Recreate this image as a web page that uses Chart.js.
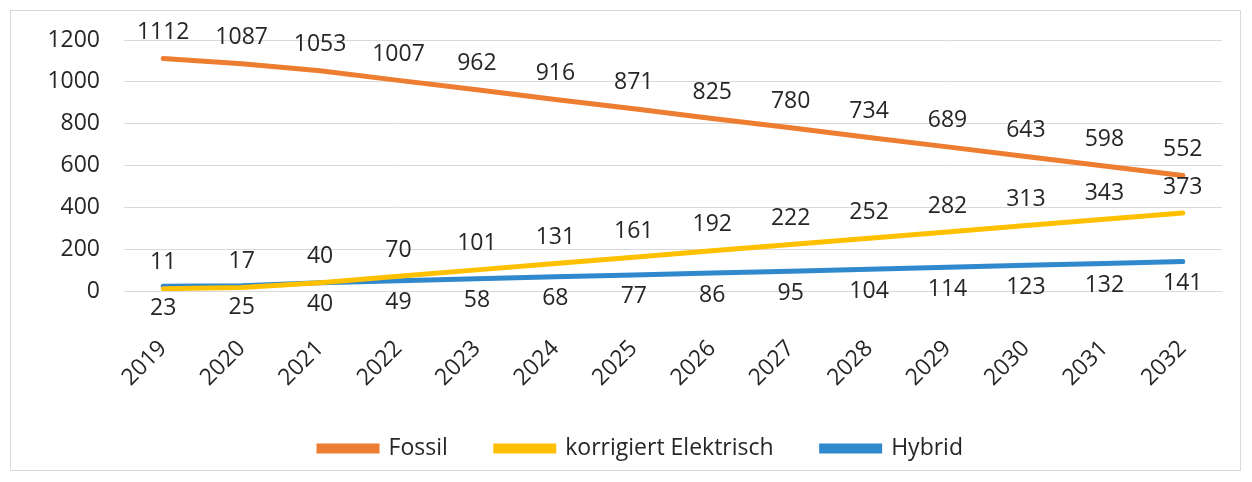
<!DOCTYPE html>
<html>
<head>
<meta charset="utf-8">
<script src="https://cdn.jsdelivr.net/npm/chart.js@4"></script>
<style>
  html, body { margin: 0; padding: 0; background: #fff; }
  #wrap { width: 1252px; height: 482px; position: relative; }
</style>
</head>
<body>
<div id="wrap"><canvas id="chart"></canvas></div>
<script>
const years = ['2019','2020','2021','2022','2023','2024','2025','2026','2027','2028','2029','2030','2031','2032'];
const fossil = [1112, 1087, 1053, 1007, 962, 916, 871, 825, 780, 734, 689, 643, 598, 552];
const elektrisch = [11, 17, 40, 70, 101, 131, 161, 192, 222, 252, 282, 313, 343, 373];
const hybrid = [23, 25, 40, 49, 58, 68, 77, 86, 95, 104, 114, 123, 132, 141];

const FONT = '"Open Sans", "Liberation Sans", sans-serif';
const TEXT = '#262626';

// value labels: above the line for Fossil/Elektrisch, below for Hybrid
const valueLabels = {
    id: 'valueLabels',
    afterDatasetsDraw(chart) {
        const ctx = chart.ctx;
        ctx.save();
        ctx.font = '23px ' + FONT;
        ctx.fillStyle = TEXT;
        ctx.textAlign = 'center';
        ctx.textBaseline = 'middle';
        chart.data.datasets.forEach((ds, i) => {
            const meta = chart.getDatasetMeta(i);
            meta.data.forEach((pt, j) => {
                ctx.fillText(String(ds.data[j]), pt.x, pt.y + ds.labelOffset);
            });
        });
        ctx.restore();
    }
};

const frame = {
    id: 'frame',
    beforeDraw(chart) {
        const ctx = chart.ctx;
        ctx.save();
        ctx.strokeStyle = '#d9d9d9';
        ctx.lineWidth = 1;
        ctx.strokeRect(10.5, 10.5, 1230, 460);
        ctx.restore();
    }
};

new Chart(document.getElementById('chart'), {
    type: 'line',
    data: {
        labels: years,
        datasets: [
            { label: 'Fossil', data: fossil, borderColor: '#ED7D31', backgroundColor: '#ED7D31', labelOffset: -26 },
            { label: 'korrigiert Elektrisch', data: elektrisch, borderColor: '#FFC000', backgroundColor: '#FFC000', labelOffset: -26 },
            { label: 'Hybrid', data: hybrid, borderColor: '#3089CC', backgroundColor: '#3089CC', labelOffset: 22 }
        ]
    },
    options: {
        responsive: true,
        maintainAspectRatio: false,
        animation: false,
        elements: {
            line: { borderWidth: 5, tension: 0, borderCapStyle: 'round' },
            point: { radius: 0 }
        },
        layout: { padding: { left: 30, right: 0, top: 40, bottom: 12 } },
        scales: {
            x: {
                offset: true,
                grid: { display: false },
                border: { display: false },
                afterFit(scale) { scale.height = 98; },
                ticks: {
                    color: TEXT,
                    font: { family: FONT, size: 23 },
                    maxRotation: 45,
                    minRotation: 45,
                    padding: 36
                }
            },
            y: {
                min: 0,
                max: 1200,
                grid: { color: '#d9d9d9', drawTicks: false },
                border: { display: false },
                afterFit(scale) { scale.width = 94; },
                ticks: {
                    stepSize: 200,
                    color: TEXT,
                    font: { family: FONT, size: 23 },
                    padding: 24,
                    callback: (v) => String(v)
                }
            },
            // empty right axis, only reserves the right margin
            yRight: {
                position: 'right',
                display: true,
                grid: { display: false },
                border: { display: false },
                ticks: { display: false },
                afterFit(scale) { scale.width = 30; }
            }
        },
        plugins: {
            legend: {
                position: 'bottom',
                labels: {
                    boxWidth: 58,
                    boxHeight: 5,
                    padding: 48,
                    color: TEXT,
                    font: { family: FONT, size: 23 }
                }
            },
            tooltip: { enabled: false }
        }
    },
    plugins: [valueLabels, frame]
});
</script>
</body>
</html>
